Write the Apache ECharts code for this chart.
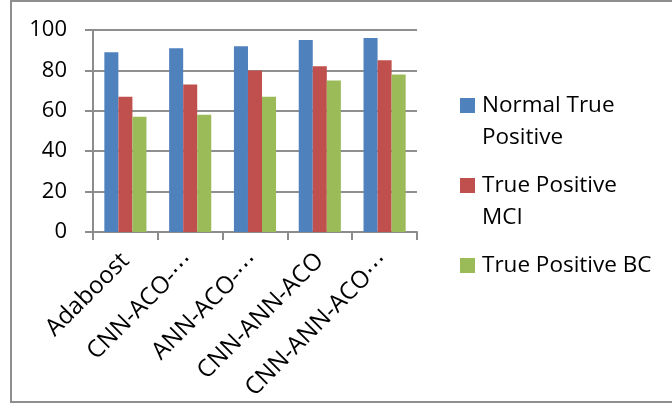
<!DOCTYPE html>
<html>
<head>
<meta charset="utf-8">
<script src="https://cdn.jsdelivr.net/npm/echarts@6/dist/echarts.min.js"></script>
<style>
  html, body { margin: 0; padding: 0; background: #fff; }
  #chart { width: 672px; height: 405px; }
</style>
</head>
<body>
<div id="chart"></div>
<script>
// Model names shown on the category axis
const categories = ['Adaboost', 'CNN-ACO-⋯', 'ANN-ACO-⋯', 'CNN-ANN-ACO', 'CNN-ANN-ACO⋯'];

// Series names and their values (%)
const seriesNames = ['Normal True Positive', 'True Positive MCI', 'True Positive BC'];
const normalTruePositive = [89, 91, 92, 95, 96];
const truePositiveMCI = [67, 73, 80, 82, 85];
const truePositiveBC = [57, 58, 67, 75, 78];

// Value axis ticks
const yTicks = [0, 20, 40, 60, 80, 100];

// Legend labels as wrapped in the legend box
const legendLabels = {
  'Normal True Positive': '\nNormal True\nPositive',
  'True Positive MCI': '\nTrue Positive\nMCI',
  'True Positive BC': '\nTrue Positive BC\n'
};

const colors = ['#4F81BD', '#C0504D', '#9BBB59'];
const seriesData = [normalTruePositive, truePositiveMCI, truePositiveBC];
const FONT = '"Open Sans", "Noto Sans", "DejaVu Sans", sans-serif';
const axisGray = '#8c8c8c';

const chart = echarts.init(document.getElementById('chart'), null, { renderer: 'canvas' });

chart.setOption({
  animation: false,
  backgroundColor: '#ffffff',
  color: colors,
  graphic: [{
    type: 'rect',
    shape: { x: 11, y: 1, width: 700, height: 401 },
    style: { fill: 'none', stroke: '#8e8e8e', lineWidth: 2 },
    silent: true
  }],
  grid: { left: 93, right: 255, top: 30, bottom: 173, containLabel: false },
  legend: {
    orient: 'vertical',
    left: 460,
    top: 57.5,
    padding: 0,
    itemGap: -16,
    itemWidth: 15,
    itemHeight: 15,
    icon: 'rect',
    data: seriesNames,
    formatter: name => legendLabels[name],
    textStyle: {
      fontFamily: FONT,
      fontSize: 22.5,
      lineHeight: 32,
      padding: [0, 0, 0, 2],
      color: '#000000'
    }
  },
  xAxis: {
    type: 'category',
    data: categories,
    axisLine: { show: true, lineStyle: { color: axisGray, width: 2 } },
    axisTick: { show: true, length: 8, alignWithLabel: false, lineStyle: { color: axisGray, width: 2 } },
    axisLabel: {
      interval: 0,
      rotate: 45,
      margin: 25,
      fontFamily: FONT,
      fontSize: 24,
      color: '#000000'
    }
  },
  yAxis: {
    type: 'value',
    min: yTicks[0],
    max: yTicks[yTicks.length - 1],
    interval: yTicks[1] - yTicks[0],
    axisLine: { show: true, lineStyle: { color: axisGray, width: 2 } },
    axisTick: { show: true, length: 8, lineStyle: { color: axisGray, width: 2 } },
    splitLine: { show: true, lineStyle: { color: '#8f8f8f', width: 2 } },
    axisLabel: {
      margin: 26,
      fontFamily: FONT,
      fontSize: 22,
      color: '#000000'
    }
  },
  series: seriesNames.map((name, i) => ({
    name: name,
    type: 'bar',
    data: seriesData[i],
    barGap: '0%',
    barCategoryGap: '35%',
    itemStyle: { color: colors[i] }
  }))
});
</script>
</body>
</html>
